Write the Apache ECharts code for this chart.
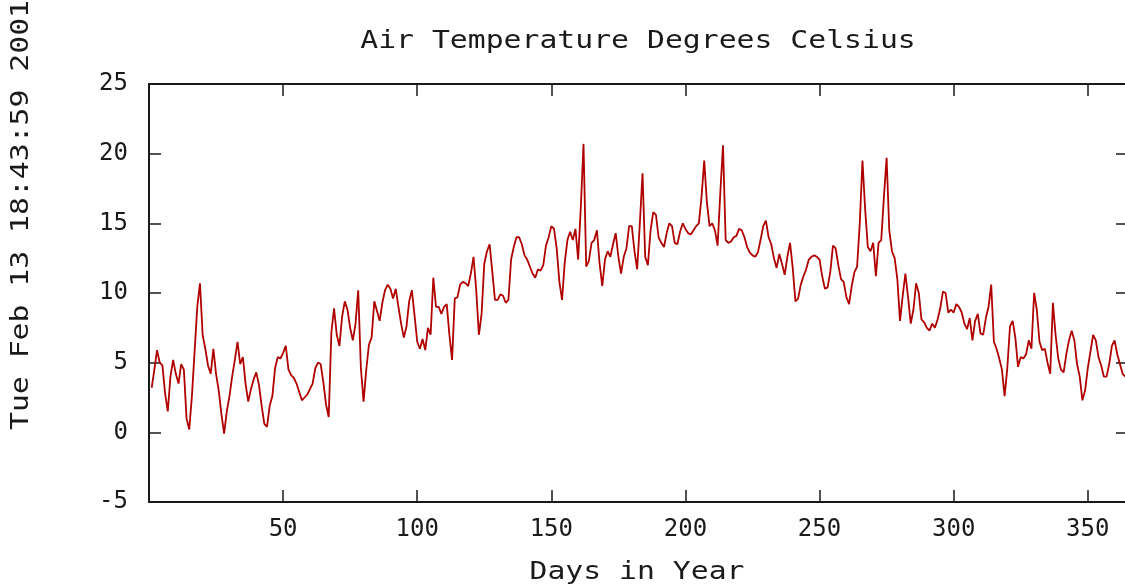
<!DOCTYPE html>
<html>
<head>
<meta charset="utf-8">
<script src="https://cdn.jsdelivr.net/npm/echarts@6/dist/echarts.min.js"></script>
<style>
    html, body { margin: 0; padding: 0; background: #fff; overflow: hidden; }
    #chart { width: 1130px; height: 587px; }
</style>
</head>
<body>
<div id="chart"></div>
<script>
// daily air temperature, day 1 .. 365
var temps = [
    3.2, 4.5, 5.9, 5.0, 4.8, 2.8, 1.5, 4.0, 5.2, 4.2,
    3.5, 4.9, 4.5, 1.0, 0.2, 2.6, 5.8, 9.0, 10.7, 7.0,
    6.0, 4.8, 4.2, 6.0, 4.2, 3.0, 1.3, -0.1, 1.5, 2.6,
    4.0, 5.2, 6.5, 4.9, 5.4, 3.5, 2.2, 3.1, 3.8, 4.3,
    3.4, 1.9, 0.6, 0.4, 1.9, 2.6, 4.6, 5.4, 5.3, 5.7,
    6.2, 4.5, 4.1, 3.9, 3.5, 2.9, 2.3, 2.5, 2.7, 3.1,
    3.5, 4.6, 5.0, 4.9, 3.6, 2.0, 1.1, 7.2, 8.9, 7.0,
    6.2, 8.3, 9.4, 8.8, 7.5, 6.6, 7.8, 10.2, 4.6, 2.2,
    4.5, 6.3, 6.8, 9.4, 8.7, 8.0, 9.3, 10.2, 10.6, 10.3,
    9.6, 10.3, 9.0, 7.8, 6.8, 7.6, 9.4, 10.2, 8.4, 6.5,
    6.0, 6.7, 5.9, 7.5, 7.0, 11.1, 9.0, 9.0, 8.5, 9.0,
    9.2, 7.0, 5.2, 9.6, 9.7, 10.6, 10.8, 10.7, 10.5, 11.4,
    12.6, 10.2, 7.0, 8.5, 12.1, 13.0, 13.5, 11.5, 9.5, 9.5,
    9.9, 9.8, 9.3, 9.5, 12.4, 13.3, 14.0, 14.0, 13.5, 12.7,
    12.4, 11.9, 11.4, 11.1, 11.7, 11.6, 12.0, 13.4, 14.0, 14.8,
    14.6, 13.2, 10.8, 9.5, 12.2, 13.8, 14.4, 13.8, 14.6, 12.4,
    16.2, 20.7, 11.9, 12.3, 13.6, 13.8, 14.5, 12.1, 10.5, 12.4,
    13.0, 12.6, 13.5, 14.3, 12.6, 11.4, 12.6, 13.2, 14.8, 14.8,
    13.0, 11.7, 15.0, 18.6, 12.6, 12.0, 14.5, 15.8, 15.6, 14.0,
    13.6, 13.3, 14.3, 15.0, 14.8, 13.6, 13.5, 14.4, 15.0, 14.6,
    14.3, 14.2, 14.5, 14.8, 15.0, 16.9, 19.5, 16.5, 14.8, 15.0,
    14.5, 13.4, 17.2, 20.6, 13.8, 13.6, 13.7, 14.0, 14.1, 14.6,
    14.5, 14.0, 13.3, 12.9, 12.7, 12.6, 12.9, 13.8, 14.8, 15.2,
    14.0, 13.5, 12.5, 11.8, 12.8, 12.1, 11.3, 12.6, 13.6, 11.8,
    9.4, 9.6, 10.6, 11.2, 11.7, 12.4, 12.6, 12.7, 12.6, 12.4,
    11.2, 10.3, 10.4, 11.5, 13.4, 13.2, 12.0, 11.0, 10.8, 9.7,
    9.2, 10.5, 11.5, 11.9, 15.0, 19.5, 16.0, 13.3, 13.0, 13.6,
    11.2, 13.6, 13.8, 16.9, 19.7, 14.5, 13.0, 12.5, 11.0, 8.0,
    9.8, 11.4, 9.7, 7.8, 8.8, 10.7, 10.0, 8.1, 7.9, 7.5,
    7.3, 7.8, 7.5, 8.1, 8.9, 10.1, 10.0, 8.6, 8.8, 8.6,
    9.2, 9.0, 8.6, 7.8, 7.4, 8.2, 6.6, 8.0, 8.5, 7.1,
    7.0, 8.2, 9.0, 10.6, 6.5, 6.0, 5.3, 4.5, 2.6, 4.6,
    7.6, 8.0, 6.8, 4.7, 5.4, 5.3, 5.6, 6.6, 6.0, 10.0,
    8.8, 6.5, 5.9, 6.0, 5.0, 4.2, 9.3, 7.0, 5.3, 4.5,
    4.3, 5.6, 6.6, 7.3, 6.6, 4.9, 4.0, 2.3, 3.0, 4.6,
    5.8, 7.0, 6.6, 5.4, 4.8, 4.0, 4.0, 4.9, 6.2, 6.6,
    5.6, 4.9, 4.2, 4.0, 4.3
];

var titleText = 'Air Temperature Degrees Celsius';
var xName = 'Days in Year';
var stampText = 'Tue Feb 13 18:43:59 2001';

var xRange = [0, 365], xStep = 50;
var yRange = [-5, 25], yStep = 5;

var font = 'DejaVu Sans Mono';
var ink = '#1a1a1a';

var points = temps.map(function (v, i) {
    return [i + 1, v];
});

function axisBase(pos, showLabel) {
    return {
        type: 'value',
        position: pos,
        splitLine: { show: false },
        axisLine: { show: true, onZero: false, lineStyle: { color: ink, width: 2 } },
        axisTick: { show: true, inside: true, length: 12, lineStyle: { color: ink, width: 1.5 } },
        axisLabel: {
            show: showLabel,
            fontFamily: font,
            fontSize: 24,
            color: ink,
            showMinLabel: false,
            showMaxLabel: false
        }
    };
}

var xBottom = axisBase('bottom', true);
xBottom.min = xRange[0]; xBottom.max = xRange[1]; xBottom.interval = xStep;
xBottom.axisLabel.margin = 16;
var xTop = axisBase('top', false);
xTop.min = xRange[0]; xTop.max = xRange[1]; xTop.interval = xStep;

var yLeft = axisBase('left', true);
yLeft.min = yRange[0]; yLeft.max = yRange[1]; yLeft.interval = yStep;
yLeft.axisLabel.showMinLabel = true;
yLeft.axisLabel.showMaxLabel = true;
yLeft.axisLabel.margin = 21;
var yRight = axisBase('right', false);
yRight.min = yRange[0]; yRight.max = yRange[1]; yRight.interval = yStep;

var option = {
    animation: false,
    backgroundColor: '#fff',
    grid: { left: 149, top: 84, right: 2, bottom: 85, containLabel: false },
    xAxis: [xBottom, xTop],
    yAxis: [yLeft, yRight],
    graphic: [
        {
            type: 'text', x: 638, y: 42, scaleX: 1.24,
            style: { text: titleText, font: '24px "' + font + '"', fill: ink, align: 'center', verticalAlign: 'middle' }
        },
        {
            type: 'text', x: 637, y: 573, scaleX: 1.24,
            style: { text: xName, font: '24px "' + font + '"', fill: ink, align: 'center', verticalAlign: 'middle' }
        },
        {
            type: 'text', x: 22, y: 215, rotation: Math.PI / 2, scaleX: 1.24,
            style: { text: stampText, font: '24px "' + font + '"', fill: ink, align: 'center', verticalAlign: 'middle' }
        }
    ],
    series: [
        {
            type: 'line',
            xAxisIndex: 0,
            yAxisIndex: 0,
            data: points,
            showSymbol: false,
            lineStyle: { color: '#b00000', width: 1.8 },
            itemStyle: { color: '#b00000' }
        }
    ]
};

var chart = echarts.init(document.getElementById('chart'));
chart.setOption(option);
</script>
</body>
</html>
